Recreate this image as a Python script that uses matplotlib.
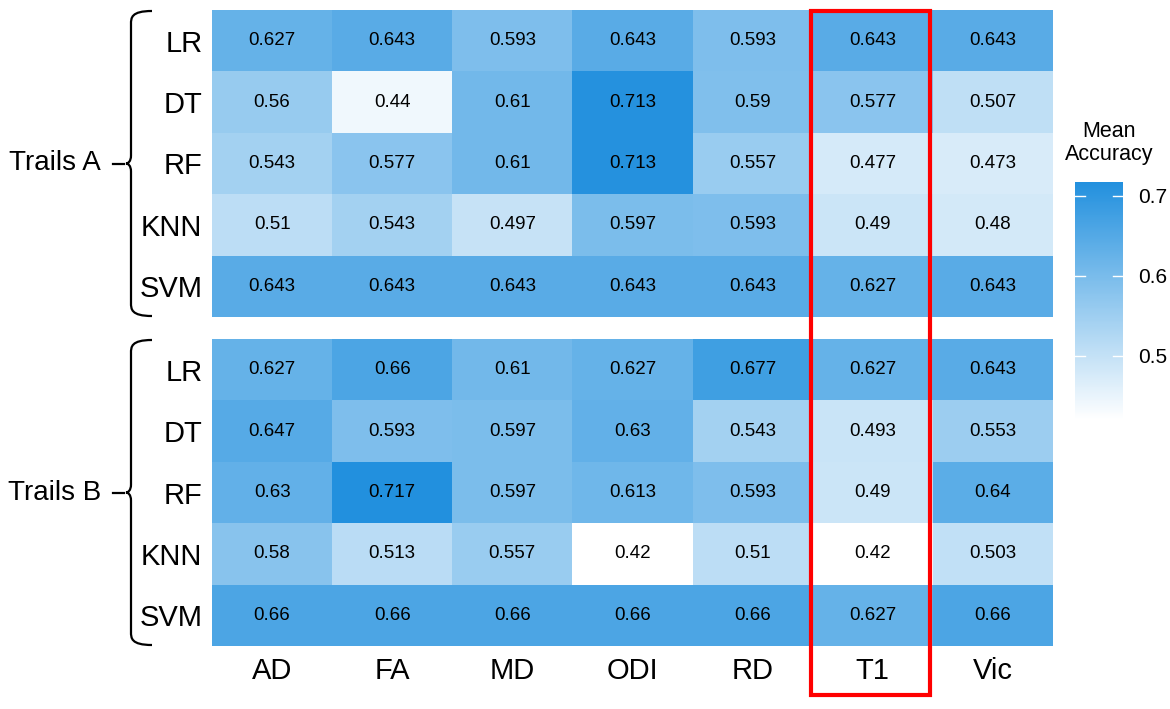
import numpy as np
import matplotlib
matplotlib.use("Agg")
import matplotlib.pyplot as plt
from matplotlib.colors import LinearSegmentedColormap, Normalize
from matplotlib.path import Path
from matplotlib.patches import PathPatch, Rectangle

plt.rcParams['font.family'] = ['Liberation Sans', 'DejaVu Sans']

features = ['AD', 'FA', 'MD', 'ODI', 'RD', 'T1', 'Vic']
models = ['LR', 'DT', 'RF', 'KNN', 'SVM']
groups = ['Trails A', 'Trails B']

trails_a = [
    [0.627, 0.643, 0.593, 0.643, 0.593, 0.643, 0.643],
    [0.56, 0.44, 0.61, 0.713, 0.59, 0.577, 0.507],
    [0.543, 0.577, 0.61, 0.713, 0.557, 0.477, 0.473],
    [0.51, 0.543, 0.497, 0.597, 0.593, 0.49, 0.48],
    [0.643, 0.643, 0.643, 0.643, 0.643, 0.627, 0.643],
]
trails_b = [
    [0.627, 0.66, 0.61, 0.627, 0.677, 0.627, 0.643],
    [0.647, 0.593, 0.597, 0.63, 0.543, 0.493, 0.553],
    [0.63, 0.717, 0.597, 0.613, 0.593, 0.49, 0.64],
    [0.58, 0.513, 0.557, 0.42, 0.51, 0.42, 0.503],
    [0.66, 0.66, 0.66, 0.66, 0.66, 0.627, 0.66],
]
highlight = 'T1'

W, H = 1170, 709
fig = plt.figure(figsize=(W / 100, H / 100), dpi=100)

cmap = LinearSegmentedColormap.from_list('wb', ['#ffffff', '#2290de'])
allv = np.array(trails_a + trails_b)
norm = Normalize(vmin=allv.min(), vmax=allv.max())


def px(x0, y0, x1, y1):
    # pixel box (top-left origin) -> figure fraction rect
    return [x0 / W, 1 - y1 / H, (x1 - x0) / W, (y1 - y0) / H]


axA = fig.add_axes(px(212, 10, 1053, 317))
axB = fig.add_axes(px(212, 339, 1053, 646))

for ax, data in zip([axA, axB], [trails_a, trails_b]):
    arr = np.array(data)
    ax.pcolormesh(np.arange(len(features) + 1), np.arange(len(models) + 1), arr,
                  cmap=cmap, norm=norm)
    ax.set_xlim(0, len(features))
    ax.set_ylim(len(models), 0)
    for i in range(len(models)):
        for j in range(len(features)):
            ax.text(j + 0.5, i + 0.5, f"{arr[i, j]:g}", ha='center', va='center',
                    fontsize=13.5, color='black')
    ax.set_yticks(np.arange(len(models)) + 0.5)
    ax.set_yticklabels(models, fontsize=21)
    ax.tick_params(length=0, pad=7)
    for s in ax.spines.values():
        s.set_visible(False)

axA.set_xticks([])
axB.set_xticks(np.arange(len(features)) + 0.5)
axB.set_xticklabels(features, fontsize=21)
axB.tick_params(axis='x', pad=8)

# colorbar
cax = fig.add_axes(px(1075, 182, 1123, 420))
cb = fig.colorbar(plt.cm.ScalarMappable(norm=norm, cmap=cmap), cax=cax)
cb.outline.set_visible(False)
cb.set_ticks([0.5, 0.6, 0.7])
cax.tick_params(length=0, labelsize=15, pad=11)
for t in [0.5, 0.6, 0.7]:
    cax.plot([0, 0.2], [t, t], color='white', lw=1, transform=cax.get_yaxis_transform())
    cax.plot([0.8, 1], [t, t], color='white', lw=1, transform=cax.get_yaxis_transform())
fig.text(1109 / W, 1 - 143 / H, 'Mean\nAccuracy', ha='center', va='center',
         fontsize=15.5, linespacing=1.15)

# overlay in pixel coordinates for braces and highlight box
ov = fig.add_axes([0, 0, 1, 1], zorder=5)
ov.set_xlim(0, W)
ov.set_ylim(H, 0)
ov.axis('off')
ov.patch.set_alpha(0)


def ax_px(ax):
    b = ax.get_position()
    return b.x0 * W, (1 - b.y1) * H, b.x1 * W, (1 - b.y0) * H


for ax, name in zip([axA, axB], groups):
    x0, top, x1, bot = ax_px(ax)
    mid = (top + bot) / 2
    xb, xe = 131, 152
    verts = [(xe, top + 1), (xb, top + 1), (xb, top + 8), (xb, top + 14),
             (xb, mid - 8),
             (xb, mid - 2), (xb - 3, mid), (xb - 5, mid),
             (xb - 3, mid), (xb, mid + 2), (xb, mid + 8),
             (xb, bot - 14),
             (xb, bot - 8), (xb, bot - 1), (xe, bot - 1)]
    codes = [Path.MOVETO, Path.CURVE4, Path.CURVE4, Path.LINETO,
             Path.LINETO,
             Path.CURVE4, Path.CURVE4, Path.CURVE4,
             Path.CURVE4, Path.CURVE4, Path.CURVE4,
             Path.LINETO,
             Path.CURVE4, Path.CURVE4, Path.CURVE4]
    ov.add_patch(PathPatch(Path(verts, codes), fill=False, lw=1.6, color='black'))
    ov.plot([113, 124], [mid, mid], color='black', lw=1.6)
    ov.text(101, mid, name, ha='right', va='center', fontsize=20)

# highlight column box
k = features.index(highlight)
xl = axA.transData.transform((k, 0))[0]
xr = axA.transData.transform((k + 1, 0))[0]
_, topA, _, _ = ax_px(axA)
ov.add_patch(Rectangle((xl - 2, topA + 1), xr - xl - 1, 695 - topA - 1, fill=False,
                       edgecolor='#ff0000', lw=3))

fig.savefig('out.png', dpi=100)
